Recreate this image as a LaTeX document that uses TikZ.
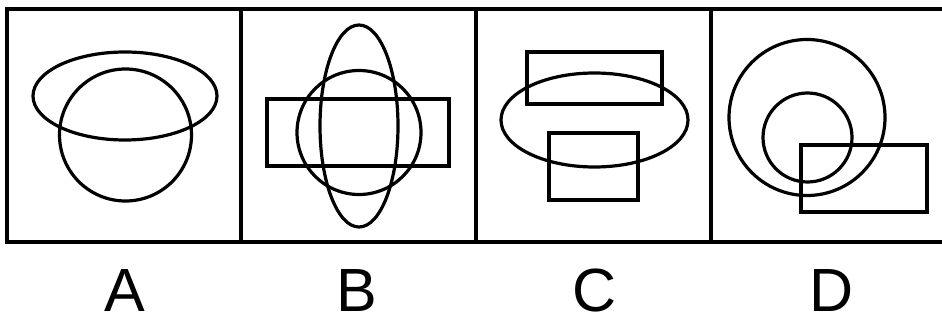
\documentclass[tikz,border=0pt]{standalone}
\usepackage{fontspec}
\setmainfont{Liberation Sans}
\begin{document}
\begin{tikzpicture}[x=1pt,y=-1pt,
  figline/.style={draw=black,line width=3.2pt},
  frameline/.style={draw=black,line width=3.2pt},
  lab/.style={anchor=base,inner sep=0pt,text depth=0pt,font=\fontsize{61}{61}\selectfont}]
\useasboundingbox (0,0) rectangle (942,320);
% frame
\draw[frameline] (945,9) -- (7,9) -- (7,242) -- (945,242);
\draw[frameline] (241,9) -- (241,242);
\draw[frameline] (476,9) -- (476,242);
\draw[frameline] (711,9) -- (711,242);
% A
\draw[figline] (125,96) ellipse [x radius=92, y radius=44];
\draw[figline] (125.5,135) circle [radius=66];
% B
\draw[figline] (359,126) ellipse [x radius=39, y radius=101];
\draw[figline] (359,132.5) circle [radius=62];
\draw[figline] (267,99) rectangle (449,166);
% C
\draw[figline] (527,52) rectangle (662,104);
\draw[figline] (594.5,120) ellipse [x radius=93.5, y radius=47];
\draw[figline] (549,133) rectangle (638,200);
% D
\draw[figline] (807,117.5) circle [radius=78];
\draw[figline] (807.5,137.5) circle [radius=44.5];
\draw[figline] (801,145) rectangle (927,212);
% labels
\node[lab] (la) at (125,312) {A};
\node[lab] (lb) at (357,312) {B};
\node[lab] (lc) at (595,312) {C};
\node[lab] (ld) at (832,312) {D};
\end{tikzpicture}
\end{document}
